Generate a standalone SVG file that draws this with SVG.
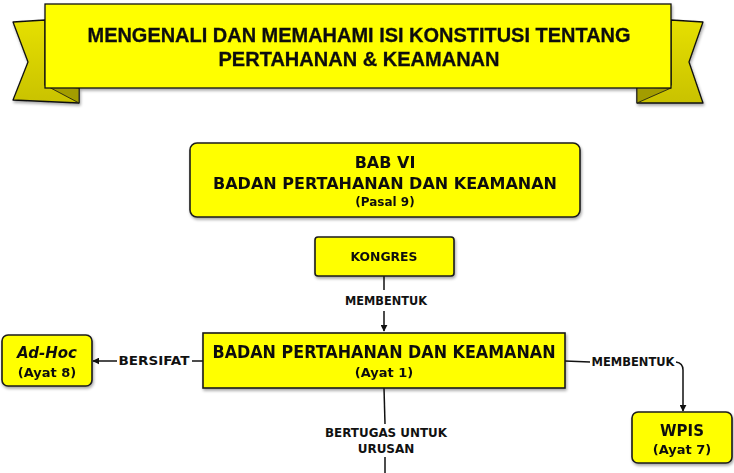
<svg xmlns="http://www.w3.org/2000/svg" width="734" height="473" viewBox="0 0 734 473">
<defs>
<marker id="arr" viewBox="0 0 10 10" refX="9" refY="5" markerWidth="7" markerHeight="7" orient="auto-start-reverse" markerUnits="userSpaceOnUse">
<path d="M0,0 L10,5 L0,10 z" fill="#111"/>
</marker>
<filter id="sh" x="-10%" y="-10%" width="130%" height="140%">
<feGaussianBlur in="SourceAlpha" stdDeviation="1.5"/>
<feOffset dx="1" dy="2" result="b"/>
<feComponentTransfer><feFuncA type="linear" slope="0.35"/></feComponentTransfer>
<feMerge><feMergeNode/><feMergeNode in="SourceGraphic"/></feMerge>
</filter>
<linearGradient id="tail" x1="0" y1="0" x2="0" y2="1">
<stop offset="0" stop-color="#e6e000"/>
<stop offset="1" stop-color="#c9c200"/>
</linearGradient>
</defs>
<style>
.box{fill:#ffff00;stroke:#1a1a1a;stroke-width:1.6}
.t{font-family:"DejaVu Sans","Liberation Sans",sans-serif;font-weight:bold;fill:#111;text-anchor:middle}
.ttl{font-family:"Liberation Sans",Arial,sans-serif;font-weight:bold;fill:#111;text-anchor:middle;font-size:20px;stroke:#111;stroke-width:0.3}
.lbl{font-family:"DejaVu Sans","Liberation Sans",sans-serif;font-weight:bold;fill:#111;text-anchor:middle;font-size:12px}
.ln{fill:none;stroke:#111;stroke-width:1.5}
</style>
<rect width="734" height="473" fill="#ffffff"/>

<g id="banner" filter="url(#sh)">
<path d="M13,22 L45,20 L45,85 L79,88 L79,103 L13,100 L28,62 Z" fill="url(#tail)" stroke="#111" stroke-width="1.3" stroke-linejoin="round"/>
<path d="M45,85 L79,103 L79,88 Z" fill="#a39d00" stroke="#111" stroke-width="0.8"/>
<path d="M703,22 L671,20 L671,85 L637,88 L637,103 L703,103 L689,62 Z" fill="url(#tail)" stroke="#111" stroke-width="1.3" stroke-linejoin="round"/>
<path d="M671,88 L637,103 L637,87 Z" fill="#a39d00" stroke="#111" stroke-width="0.8"/>
<rect x="45" y="4" width="626" height="84" fill="#ffff00" stroke="#111" stroke-width="1.3"/>
<text class="ttl" x="359" y="42" textLength="543" lengthAdjust="spacingAndGlyphs">MENGENALI DAN MEMAHAMI ISI KONSTITUSI TENTANG</text>
<text class="ttl" x="359" y="66" textLength="281" lengthAdjust="spacingAndGlyphs">PERTAHANAN &amp; KEAMANAN</text>
</g>

<g id="connectors">
<path class="ln" d="M384,276 L384,290"/>
<path class="ln" d="M384,311 L384,331" marker-end="url(#arr)"/>
<text class="lbl" x="386" y="305" textLength="82" lengthAdjust="spacingAndGlyphs">MEMBENTUK</text>
<path class="ln" d="M203,361 L192,361"/>
<path class="ln" d="M117,361 L93,361" marker-end="url(#arr)"/>
<text class="lbl" x="154" y="365" textLength="71" lengthAdjust="spacingAndGlyphs">BERSIFAT</text>
<path class="ln" d="M565,361 L590,362"/>
<path class="ln" d="M676,362 Q683,363 683,370 L683,411" marker-end="url(#arr)"/>
<text class="lbl" x="633" y="366" textLength="83" lengthAdjust="spacingAndGlyphs">MEMBENTUK</text>
<path class="ln" d="M384,388 L385,424"/>
<path class="ln" d="M385,457 L385,473"/>
<text class="lbl" x="386" y="437" textLength="122" lengthAdjust="spacingAndGlyphs">BERTUGAS UNTUK</text>
<text class="lbl" x="386" y="453">URUSAN</text>
</g>

<g id="bab" filter="url(#sh)">
<rect class="box" x="190" y="143" width="390" height="74" rx="7"/>
<text class="t" x="385" y="168" font-size="16">BAB VI</text>
<text class="t" x="385" y="189" font-size="16" textLength="344" lengthAdjust="spacingAndGlyphs">BADAN PERTAHANAN DAN KEAMANAN</text>
<text class="t" x="385" y="206" font-size="12">(Pasal 9)</text>
</g>

<g id="kongres" filter="url(#sh)">
<rect class="box" x="315" y="237" width="139" height="39" rx="3"/>
<text class="t" x="384" y="261" font-size="13" textLength="67" lengthAdjust="spacingAndGlyphs">KONGRES</text>
</g>

<g id="badan" filter="url(#sh)">
<rect class="box" x="203" y="333" width="362" height="55"/>
<text class="t" x="384" y="358" font-size="17" textLength="343" lengthAdjust="spacingAndGlyphs">BADAN PERTAHANAN DAN KEAMANAN</text>
<text class="t" x="384" y="377" font-size="13">(Ayat 1)</text>
</g>

<g id="adhoc" filter="url(#sh)">
<rect class="box" x="2" y="335" width="90" height="51" rx="6"/>
<text class="t" x="47" y="358" font-size="15" font-style="italic">Ad-Hoc</text>
<text class="t" x="47" y="377" font-size="13">(Ayat 8)</text>
</g>

<g id="wpis" filter="url(#sh)">
<rect class="box" x="632" y="412" width="100" height="51" rx="6"/>
<text class="t" x="682" y="436" font-size="15">WPIS</text>
<text class="t" x="682" y="454" font-size="13">(Ayat 7)</text>
</g>
</svg>
